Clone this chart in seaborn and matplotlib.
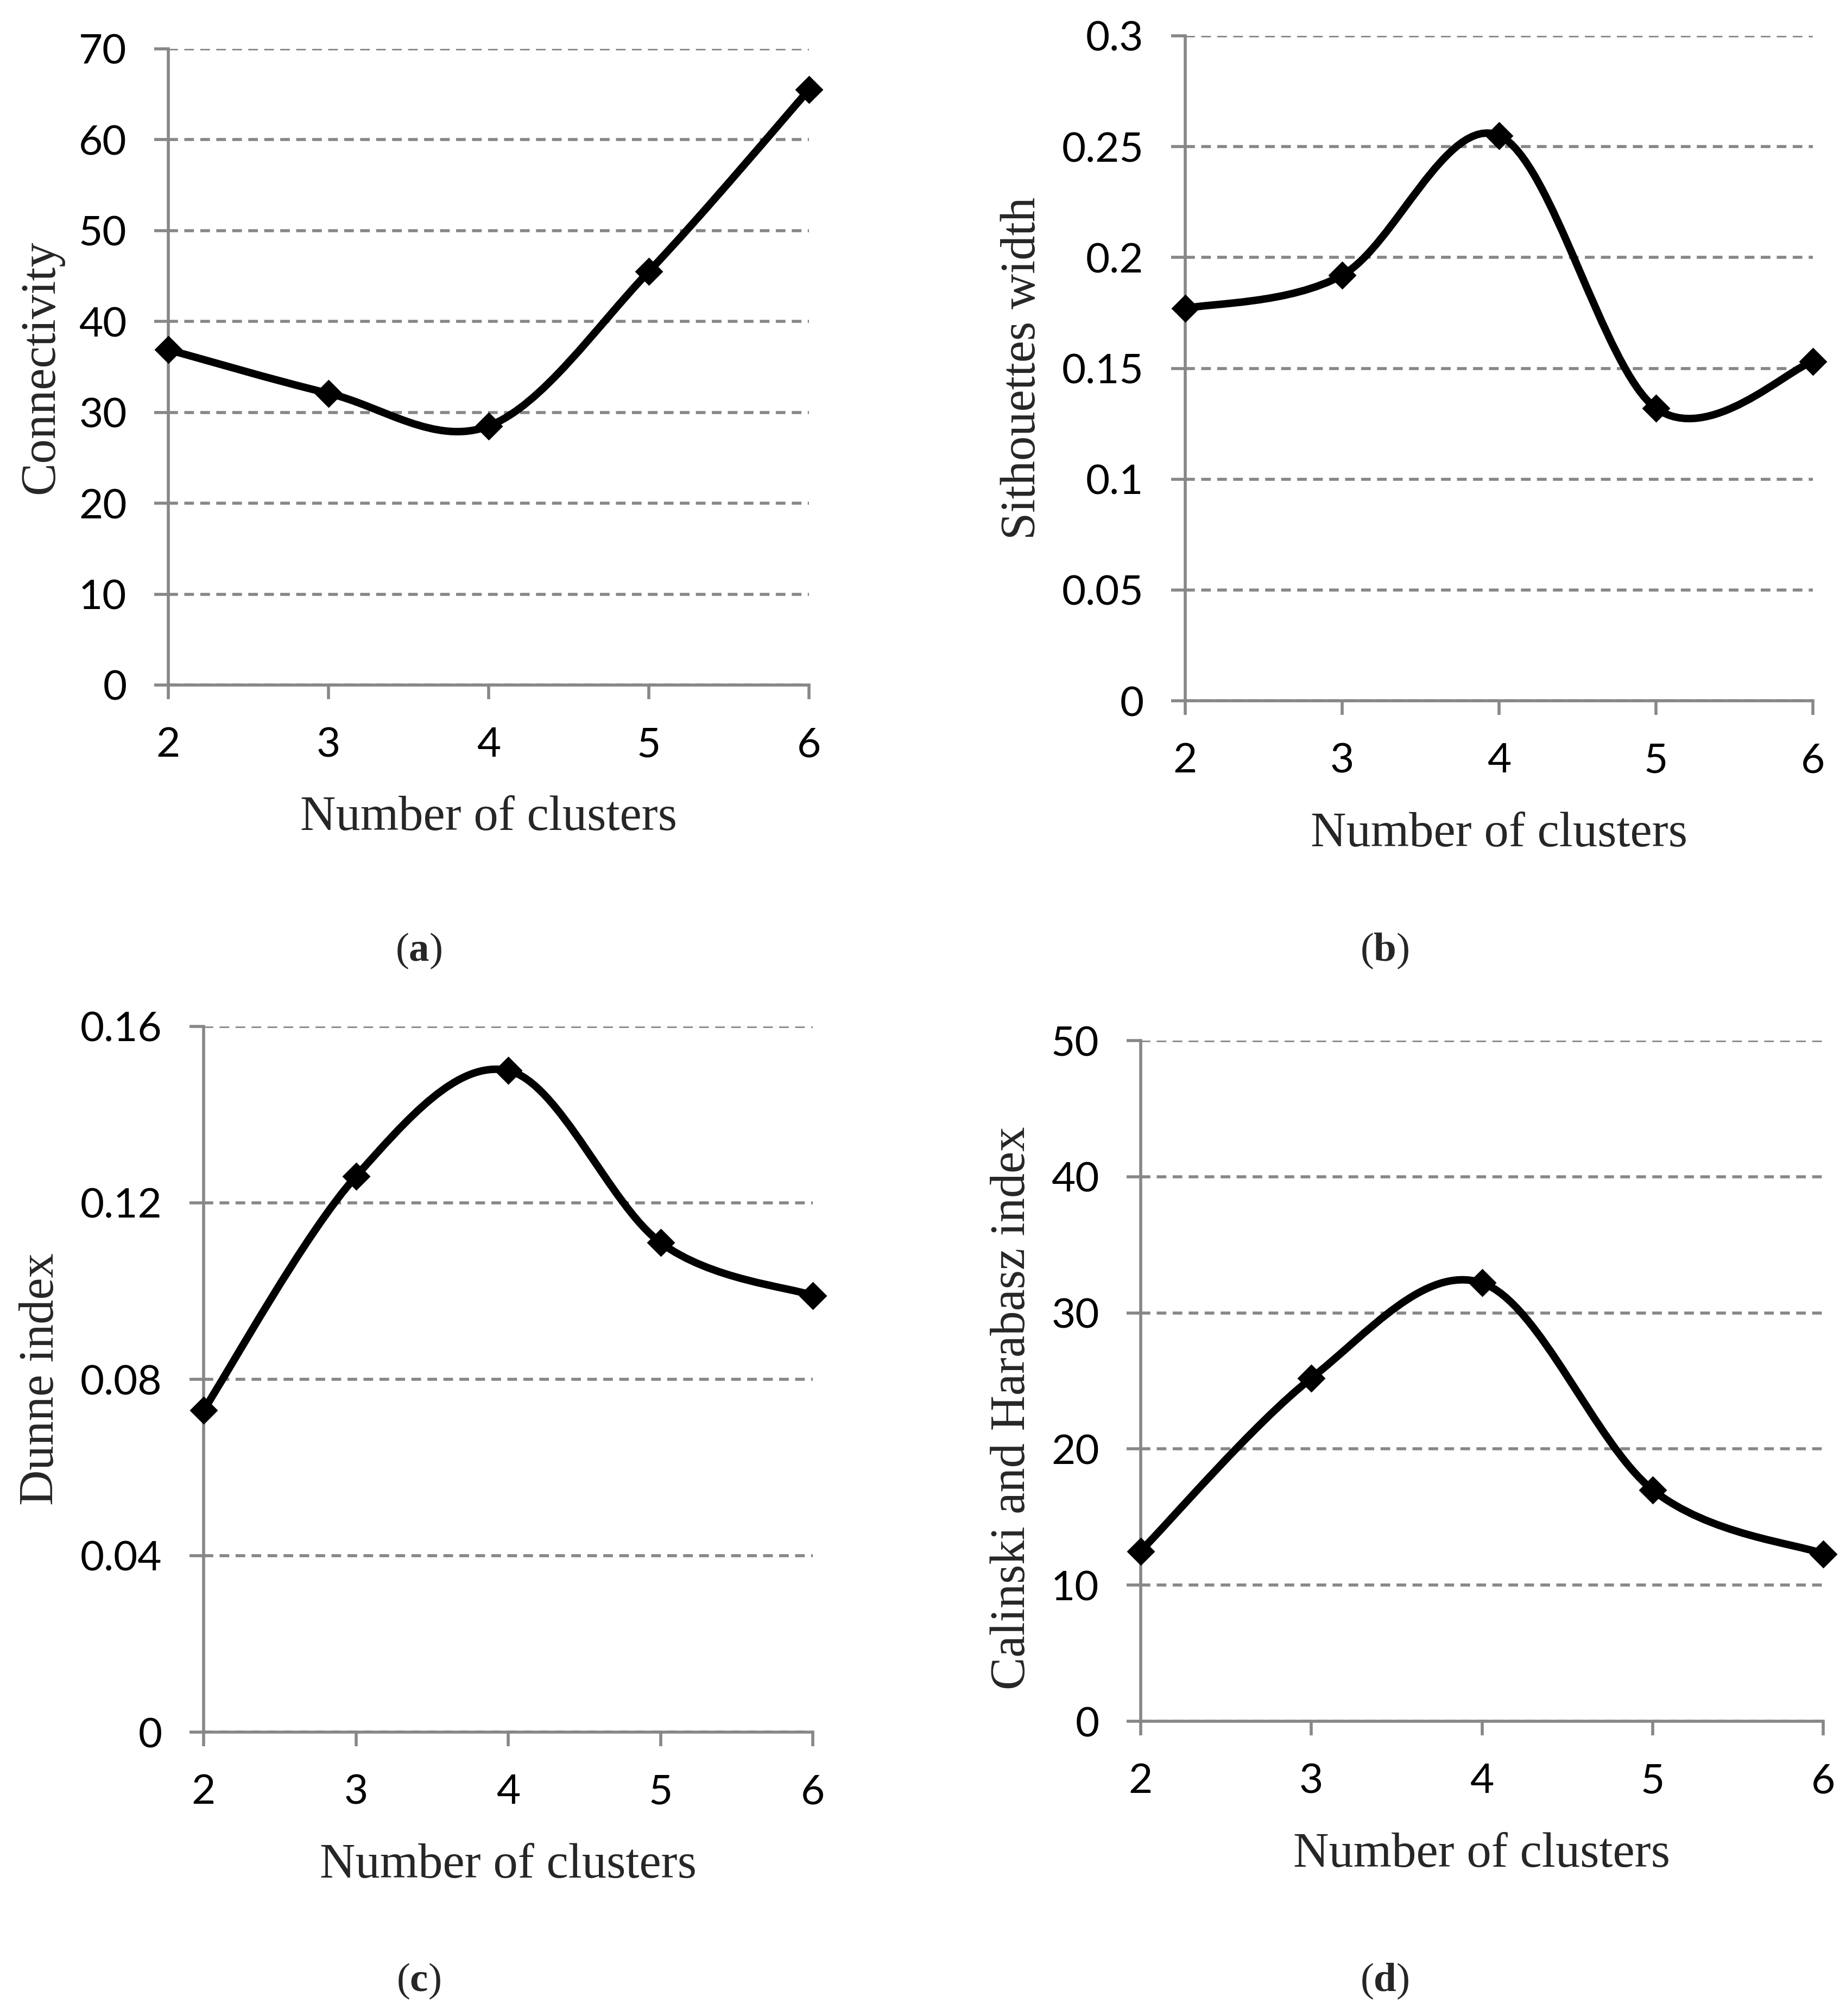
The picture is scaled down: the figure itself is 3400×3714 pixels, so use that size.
import numpy as np
import pandas as pd
import matplotlib
matplotlib.use("Agg")
import matplotlib.pyplot as plt
import matplotlib.transforms as mtransforms
from matplotlib.path import Path
from matplotlib.patches import PathPatch
import seaborn as sns

# datos
clusters = [2, 3, 4, 5, 6]
cluster_labels = ["2", "3", "4", "5", "6"]

connectivity = [36.9, 32.1, 28.5, 45.5, 65.5]
silhouette = [0.177, 0.192, 0.255, 0.132, 0.153]
dunn = [0.073, 0.126, 0.150, 0.111, 0.099]
calinski = [12.5, 25.2, 32.2, 17.0, 12.3]

ticks_a = [0, 10, 20, 30, 40, 50, 60, 70]
ticks_b = [0, 0.05, 0.1, 0.15, 0.2, 0.25, 0.3]
ticks_c = [0, 0.04, 0.08, 0.12, 0.16]
ticks_d = [0, 10, 20, 30, 40, 50]
labels_a = ["0", "10", "20", "30", "40", "50", "60", "70"]
labels_b = ["0", "0.05", "0.1", "0.15", "0.2", "0.25", "0.3"]
labels_c = ["0", "0.04", "0.08", "0.12", "0.16"]
labels_d = ["0", "10", "20", "30", "40", "50"]

ylabels = ["Connectivity", "Sithouettes width", "Dunne index",
           "Calinski and Harabasz index"]
letters = ["a", "b", "c", "d"]

W, H = 3400, 3714
GRAY = "#878787"

# caja de cada panel en pixeles: izq, der, arriba, abajo, desplazamiento del ylabel (x, y)
layout = [
    (310, 1490, 90, 1262, (-234, 0), (771, 1752)),
    (2183, 3339, 66, 1291, (-299, 0), (2550, 1752)),
    (375, 1497, 1891, 3191, (-299, 0), (771, 3650)),
    (2101, 3358, 1917, 3171, (-236, -50), (2550, 3650)),
]


def curva_suave(x, y):
    # spline tipo Excel (Catmull-Rom en Bezier cubico)
    x = np.asarray(x, float)
    y = np.asarray(y, float)
    n = len(x)
    verts = [(x[0], y[0])]
    codes = [Path.MOVETO]
    for i in range(n - 1):
        a = max(i - 1, 0)
        d = min(i + 2, n - 1)
        c1 = (x[i] + (x[i + 1] - x[a]) / 6, y[i] + (y[i + 1] - y[a]) / 6)
        c2 = (x[i + 1] - (x[d] - x[i]) / 6, y[i + 1] - (y[d] - y[i]) / 6)
        verts += [c1, c2, (x[i + 1], y[i + 1])]
        codes += [Path.CURVE4] * 3
    return Path(verts, codes)


sns.set_style("white")
plt.rcParams['font.family'] = ['Lato', 'DejaVu Sans']
plt.rcParams['mathtext.fontset'] = 'custom'
plt.rcParams['mathtext.rm'] = 'Liberation Serif'
plt.rcParams['mathtext.bf'] = 'Liberation Serif:bold'

fig = plt.figure(figsize=(W / 200, H / 200), dpi=200)

series = [connectivity, silhouette, dunn, calinski]
ticks = [ticks_a, ticks_b, ticks_c, ticks_d]
tick_labels = [labels_a, labels_b, labels_c, labels_d]

for k in range(4):
    left, right, top, bottom, (dx, dy), (lx, ly) = layout[k]
    ax = fig.add_axes([left / W, 1 - bottom / H, (right - left) / W, (bottom - top) / H])
    df = pd.DataFrame({"clusters": clusters, "valor": series[k]})

    ax.add_patch(PathPatch(curva_suave(df["clusters"], df["valor"]), facecolor="none",
                           edgecolor="black", lw=5.0, joinstyle="round",
                           capstyle="round", zorder=3, clip_on=False))
    sns.scatterplot(data=df, x="clusters", y="valor", marker="D", s=175, color="black",
                    edgecolor="black", linewidth=0, zorder=4, clip_on=False, ax=ax)

    ax.set_xlim(2, 6)
    ax.set_ylim(ticks[k][0], ticks[k][-1])
    ax.set_xticks(clusters)
    ax.set_xticklabels(cluster_labels)
    ax.set_yticks(ticks[k])
    ax.set_yticklabels(tick_labels[k])

    ax.set_axisbelow(True)
    ax.yaxis.grid(True, color=GRAY, lw=2.0, linestyle=(0, (3.2, 2.1)))
    ax.xaxis.grid(False)
    for s in ["top", "right"]:
        ax.spines[s].set_visible(False)
    for s in ["left", "bottom"]:
        ax.spines[s].set_color(GRAY)
        ax.spines[s].set_linewidth(2.0)
    ax.tick_params(direction="out", length=9.5, width=2.0, color=GRAY,
                   labelsize=27.5, pad=18, bottom=True, left=True, labelcolor="black")

    ax.set_xlabel("Number of clusters", family="Liberation Serif", fontsize=32.6)
    ax.set_ylabel(ylabels[k], family="Liberation Serif", fontsize=32.6)
    ax.xaxis.set_label_coords(0.5, 0, transform=ax.transAxes +
                              mtransforms.ScaledTranslation(0, -204 / 200, fig.dpi_scale_trans))
    ax.yaxis.set_label_coords(0, 0.5, transform=ax.transAxes +
                              mtransforms.ScaledTranslation(dx / 200, dy / 200, fig.dpi_scale_trans))
    ax.yaxis.label.set_va("center")

    fig.text(lx / W, 1 - ly / H, "(" + r"$\mathbf{" + letters[k] + "}$" + ")",
             ha="center", va="center", fontsize=27, family="Liberation Serif")

fig.savefig("out.png", dpi=200, facecolor="white")
